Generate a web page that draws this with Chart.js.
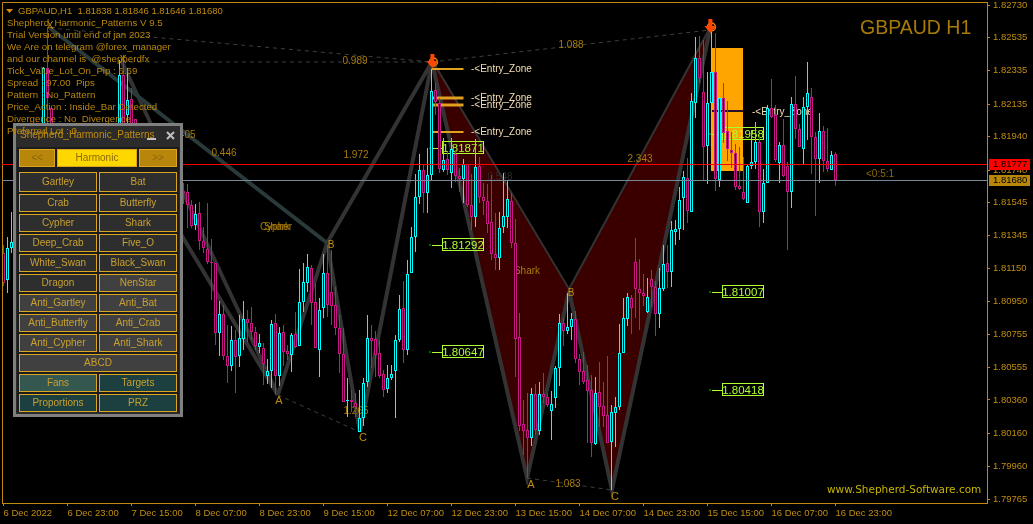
<!DOCTYPE html>
<html>
<head>
<meta charset="utf-8">
<style>
html, body { margin: 0; padding: 0; background: #000; overflow: hidden; }
canvas { display: block; }
</style>
<script src="https://cdn.jsdelivr.net/npm/chart.js@4/dist/chart.umd.min.js"></script>
</head>
<body>
<canvas id="chart" width="1033" height="524"></canvas>
<script>
// H1 bars, bar number counted from the first time label. Bars behind the panel are left out.
const barIndex = [0,1,2,10,11,12,29,30,31,32,33,45,46,47,48,49,50,51,52,53,54,55,56,57,58,59,60,61,62,63,64,65,66,67,68,69,70,71,72,73,74,75,76,77,78,79,80,81,82,83,84,85,86,87,88,89,90,91,92,93,94,95,96,97,98,99,100,101,102,103,104,105,106,107,108,109,110,111,112,113,114,115,116,117,118,119,120,121,122,123,124,125,126,127,128,129,130,131,132,133,134,135,136,137,138,139,140,141,142,143,144,145,146,147,148,149,150,151,152,153,154,155,156,157,158,159,160,161,162,163,164,165,166,167,168,169,170,171,172,173,174,175,176,177,178,179,180,181,182,183,184,185,186,187,188,189,190,191,192,193,194,195,196,197,198,199,200,201,202,203,204,205,206,207,208];
const opens = [1.81242,1.81080,1.81272,1.81920,1.82352,1.82112,1.81860,1.82310,1.82070,1.82166,1.82046,
  1.81614,1.81608,1.81530,1.81410,1.81482,1.81314,1.81266,1.81188,1.81182,1.80762,1.80876,1.80624,1.80564,1.80720,1.80624,1.80726,1.80846,1.80822,1.80768,1.80678,1.80672,1.80504,1.80534,1.80822,1.80504,1.80768,1.80654,1.80630,1.80756,1.80684,1.80948,1.81062,1.81152,1.80948,1.80660,1.80912,1.81122,1.81008,1.80930,1.80792,1.80636,1.80354,1.80360,1.80342,1.80168,1.80252,1.80468,1.80732,1.80726,1.80642,1.80516,1.80426,1.80492,1.80534,1.80720,1.80912,1.80660,1.81122,1.81338,1.81578,1.81740,1.81602,1.81710,1.82220,1.82142,1.81740,1.81806,1.81722,1.81836,1.81704,1.81686,1.81776,1.81530,1.81458,1.81764,1.81578,1.81554,1.81428,1.81236,1.81212,1.81398,1.81458,1.81554,1.81302,1.80738,1.80216,1.80180,1.80132,1.80396,1.80174,1.80396,1.80378,1.80294,1.80372,1.80552,1.80822,1.80774,1.80798,1.80846,1.80606,1.80534,1.80480,1.80420,1.80096,1.80408,1.80324,1.80270,1.80108,1.80282,1.80318,1.80642,1.80846,1.80972,1.81188,1.81026,1.81002,1.80888,1.81086,1.81038,1.80876,1.81026,1.81182,1.81128,1.81368,1.81386,1.81572,1.81692,1.81488,1.82142,1.82412,1.82208,1.81884,1.82142,1.82328,1.81680,1.82172,1.81974,1.81860,1.81842,1.81644,1.81608,1.81542,1.81764,1.81788,1.81908,1.81488,1.81662,1.82112,1.82070,1.81782,1.81890,1.81764,1.81608,1.82136,1.81986,1.81866,1.82118,1.82178,1.81938,1.81806,1.81974,1.81794,1.81740,1.81838];
const closes = [1.81062,1.81272,1.81308,1.82352,1.82172,1.81860,1.82310,1.81860,1.82160,1.81920,1.81920,
  1.81602,1.81530,1.81404,1.81476,1.81314,1.81272,1.81188,1.81182,1.80762,1.80876,1.80624,1.80564,1.80720,1.80618,1.80732,1.80846,1.80822,1.80768,1.80684,1.80702,1.80576,1.80534,1.80816,1.80504,1.80762,1.80648,1.80636,1.80750,1.80678,1.80948,1.81068,1.81158,1.80942,1.80672,1.80900,1.81122,1.80930,1.80924,1.80792,1.80636,1.80348,1.80360,1.80348,1.80318,1.80252,1.80462,1.80732,1.80714,1.80630,1.80504,1.80420,1.80492,1.80516,1.80720,1.80906,1.80660,1.81116,1.81338,1.81578,1.81740,1.81602,1.81710,1.82214,1.82148,1.81746,1.81800,1.81740,1.81866,1.81704,1.81686,1.81776,1.81530,1.81458,1.81758,1.81578,1.81554,1.81416,1.81236,1.81212,1.81392,1.81464,1.81566,1.81302,1.80726,1.80204,1.80174,1.80132,1.80396,1.80180,1.80396,1.80378,1.80330,1.80336,1.80552,1.80822,1.80774,1.80798,1.80846,1.80606,1.80528,1.80468,1.80414,1.80102,1.80402,1.80318,1.80264,1.80102,1.80288,1.80318,1.80642,1.80852,1.80978,1.80912,1.81026,1.81002,1.80984,1.80978,1.81038,1.80876,1.81032,1.81176,1.81128,1.81380,1.81386,1.81560,1.81698,1.81494,1.82154,1.82412,1.82292,1.81878,1.82142,1.82328,1.81686,1.82172,1.81962,1.81866,1.81842,1.81638,1.81626,1.81566,1.81764,1.81788,1.81908,1.81488,1.81662,1.82112,1.82058,1.81800,1.81890,1.81704,1.81608,1.82136,1.81986,1.81878,1.82118,1.82202,1.81938,1.81806,1.81974,1.81794,1.81746,1.81830,1.81680];
const highs = [1.81290,1.81338,1.81488,1.82358,1.82598,1.82112,1.82400,1.82412,1.82352,1.82232,1.82046,
  1.81662,1.81656,1.81560,1.81536,1.81548,1.81398,1.81542,1.81326,1.81182,1.80954,1.80930,1.80810,1.80804,1.80780,1.80870,1.80954,1.80900,1.80918,1.80798,1.80756,1.80702,1.80606,1.80840,1.80876,1.80798,1.80810,1.80690,1.80762,1.80888,1.81146,1.81182,1.81236,1.81170,1.81062,1.80972,1.81236,1.81290,1.81260,1.81038,1.80870,1.80792,1.80492,1.80420,1.80402,1.80420,1.80492,1.80870,1.80810,1.80774,1.80720,1.80540,1.80570,1.80570,1.80750,1.80990,1.81074,1.81200,1.81398,1.81716,1.81836,1.81770,1.81872,1.82346,1.82262,1.82172,1.81932,1.81848,1.81932,1.81860,1.81752,1.81806,1.81776,1.81716,1.81926,1.81818,1.81662,1.81656,1.81710,1.81482,1.81488,1.81722,1.81680,1.81602,1.81446,1.80882,1.80360,1.80402,1.80432,1.80456,1.80468,1.80522,1.80402,1.80414,1.80564,1.80876,1.80852,1.81002,1.80882,1.80894,1.80636,1.80648,1.80570,1.80510,1.80498,1.80588,1.80468,1.80624,1.80330,1.80378,1.80816,1.80972,1.81002,1.80990,1.81332,1.81206,1.81116,1.81092,1.81140,1.81074,1.81152,1.81290,1.81290,1.81434,1.81440,1.81638,1.81734,1.81812,1.82202,1.82538,1.82544,1.82520,1.82328,1.82568,1.82562,1.82268,1.82262,1.82154,1.81968,1.81896,1.81878,1.81818,1.81776,1.81980,1.82028,1.81950,1.81746,1.82130,1.82286,1.82130,1.81908,1.82046,1.81788,1.82178,1.82304,1.82016,1.82178,1.82388,1.82232,1.81968,1.82082,1.82004,1.81992,1.81854,1.81846];
const lows = [1.81044,1.81002,1.81242,1.81860,1.81980,1.81800,1.81800,1.81740,1.81920,1.81860,1.81860,
  1.81536,1.81392,1.81392,1.81380,1.81260,1.81242,1.81176,1.80960,1.80690,1.80624,1.80600,1.80462,1.80534,1.80402,1.80558,1.80660,1.80708,1.80720,1.80660,1.80642,1.80450,1.80456,1.80432,1.80390,1.80444,1.80564,1.80600,1.80528,1.80672,1.80684,1.80888,1.81008,1.80810,1.80672,1.80498,1.80852,1.80858,1.80810,1.80750,1.80522,1.80348,1.80258,1.80288,1.80258,1.80168,1.80204,1.80438,1.80552,1.80498,1.80492,1.80378,1.80402,1.80480,1.80252,1.80708,1.80582,1.80630,1.81122,1.81248,1.81536,1.81482,1.81482,1.81680,1.82070,1.81722,1.81728,1.81710,1.81632,1.81668,1.81608,1.81542,1.81518,1.81380,1.81398,1.81542,1.81470,1.81362,1.81200,1.81140,1.81140,1.81362,1.81392,1.81272,1.80498,1.80174,1.80030,1.79892,1.80084,1.80150,1.80150,1.80342,1.80318,1.80120,1.80312,1.80444,1.80684,1.80756,1.80720,1.80582,1.80450,1.80456,1.80102,1.80018,1.80090,1.80198,1.80198,1.80102,1.79820,1.80078,1.80300,1.80642,1.80804,1.80756,1.80852,1.80780,1.80924,1.80882,1.80918,1.80744,1.80792,1.81014,1.81032,1.81038,1.81290,1.81320,1.81380,1.81422,1.81488,1.82052,1.82262,1.81674,1.81656,1.81878,1.81614,1.81638,1.81902,1.81794,1.81752,1.81620,1.81620,1.81560,1.81542,1.81746,1.81746,1.81398,1.81422,1.81662,1.82052,1.81788,1.81662,1.81698,1.81260,1.81512,1.81926,1.81878,1.81770,1.81920,1.81716,1.81464,1.81662,1.81728,1.81728,1.81740,1.81646];

const timeTicks = [0,16,32,48,64,80,96,112,128,144,160,176,192,208];
const timeLabels = ['6 Dec 2022','6 Dec 23:00','7 Dec 15:00','8 Dec 07:00','8 Dec 23:00','9 Dec 15:00','12 Dec 07:00','12 Dec 23:00','13 Dec 15:00','14 Dec 07:00','14 Dec 23:00','15 Dec 15:00','16 Dec 07:00','16 Dec 23:00'];
const priceTicks = [1.82730,1.82535,1.82335,1.82135,1.81940,1.81740,1.81545,1.81345,1.81150,1.80950,1.80755,1.80555,1.80360,1.80160,1.79960,1.79765];

const bid = 1.81680;
const ask = 1.81777;

// harmonic pattern pivots {x: bar, y: price}
const cypherX1 = {x: 11.6, y: 1.82592};
const cypherX2 = {x: 29.6, y: 1.82388};
const cypherX3 = {x: 27.9, y: 1.82010};
const cypherA = {x: 68.6, y: 1.80390};
const cypherB = {x: 80.9, y: 1.81302};
const cypherC = {x: 89.1, y: 1.80168};
const cypherD = {x: 107.1, y: 1.82388};
const sharkA = {x: 130.9, y: 1.79892};
const sharkB = {x: 141.4, y: 1.81014};
const sharkC = {x: 152.1, y: 1.79820};
const sharkD = {x: 176.6, y: 1.82580};

const entryPrices = [1.82346, 1.82172, 1.82130, 1.81968];
const entryWidths = [2, 3, 3, 2];
const zoneTop = 1.82472;
const zoneBottom = 1.81734;
const zoneEntry = 1.82094;

const targetPrices = [1.81871, 1.81292, 1.80647, 1.81958, 1.81007, 1.80418];
const targetBars = [106.6, 106.6, 106.6, 176.6, 176.6, 176.6];

const CYAN = '#00ffff';
const MAGENTA = '#c71585';
const AXIS = '#c08a10';
const GOLD = '#c08c0e';
const PATTERN = '#333333';
const FONT = '"Liberation Sans"';

function text(ctx, str, x, y, color, font, align) {
    ctx.fillStyle = color;
    ctx.font = font;
    ctx.textAlign = align || 'left';
    ctx.textBaseline = 'middle';
    ctx.fillText(str, x, y);
}

function patternLine(points, color, order) {
    return {type: 'line', data: points, borderColor: color || PATTERN, borderWidth: 4, pointRadius: 0, tension: 0, order: order || 30};
}
function dashLine(points) {
    return {type: 'line', data: points, borderColor: '#3f3f3f', borderWidth: 1, borderDash: [4, 4], pointRadius: 0, tension: 0, order: 29};
}

const candleColors = barIndex.map((b, i) => closes[i] >= opens[i] ? CYAN : MAGENTA);

const datasets = [
    // orange zone of the last pattern
    {type: 'bar', data: [{x: 180.875, y: [zoneBottom, zoneTop]}], backgroundColor: '#ffa500', barThickness: 32, grouped: false, inflateAmount: 0, order: 60},
    // shark body, lower edge fills up to the upper edge
    {type: 'line', data: [cypherD, sharkA, sharkB], fill: '+1', backgroundColor: '#3a0000', borderColor: PATTERN, borderWidth: 4, pointRadius: 0, tension: 0, order: 40},
    {type: 'line', data: [cypherD, sharkB], borderColor: PATTERN, borderWidth: 4, pointRadius: 0, tension: 0, order: 40},
    {type: 'line', data: [sharkB, sharkC, sharkD], fill: '+1', backgroundColor: '#3a0000', borderColor: PATTERN, borderWidth: 4, pointRadius: 0, tension: 0, order: 40},
    {type: 'line', data: [sharkB, sharkD], borderColor: PATTERN, borderWidth: 4, pointRadius: 0, tension: 0, order: 40},
    // cypher legs
    patternLine([cypherX1, cypherB], '#2a3a3a'),
    patternLine([cypherX2, cypherA]),
    patternLine([cypherX3, cypherA]),
    patternLine([cypherA, cypherB]),
    patternLine([cypherB, cypherC]),
    patternLine([cypherC, cypherD]),
    patternLine([cypherB, cypherD]),
    dashLine([cypherX1, cypherD]),
    dashLine([cypherX2, cypherD]),
    dashLine([cypherA, cypherC]),
    dashLine([cypherD, sharkD]),
    dashLine([sharkA, sharkC])
];
entryPrices.forEach((p, i) => {
    datasets.push({type: 'line', data: [{x: 107, y: p}, {x: 115, y: p}], borderColor: '#e0a020', borderWidth: entryWidths[i], pointRadius: 0, order: 20});
});
datasets.push({type: 'line', data: [{x: 176.9, y: zoneEntry}, {x: 185, y: zoneEntry}], borderColor: '#2a0f2a', borderWidth: 2, pointRadius: 0, order: 20});

const wickIndex = datasets.length;
datasets.push({
    type: 'bar',
    data: barIndex.map((b, i) => ({x: b, y: [lows[i], highs[i]]})),
    backgroundColor: candleColors,
    barThickness: 1, grouped: false, inflateAmount: 0, order: 10
});
datasets.push({
    type: 'bar',
    data: barIndex.map((b, i) => ({x: b, y: [opens[i], closes[i]]})),
    backgroundColor: '#000000',
    borderColor: candleColors,
    borderWidth: 1, borderSkipped: false,
    barThickness: 3, grouped: false, inflateAmount: 0, order: 5
});

function drawArrow(ctx, x, y) {
    ctx.strokeStyle = '#e8900c';
    ctx.lineWidth = 1.5;
    ctx.beginPath();
    ctx.arc(x + 1, y, 4, 0, Math.PI * 2);
    ctx.stroke();
    ctx.fillStyle = '#ff4500';
    ctx.beginPath();
    ctx.moveTo(x - 2, y - 8);
    ctx.lineTo(x + 2, y - 8);
    ctx.lineTo(x + 2, y - 1);
    ctx.lineTo(x + 6, y - 1);
    ctx.lineTo(x, y + 6);
    ctx.lineTo(x - 6, y - 1);
    ctx.lineTo(x - 2, y - 1);
    ctx.closePath();
    ctx.fill();
}

function drawButton(ctx, label, x, y, w, h, fill, color) {
    ctx.fillStyle = fill;
    ctx.fillRect(x, y, w, h);
    ctx.strokeStyle = '#daa520';
    ctx.lineWidth = 1;
    ctx.strokeRect(x + 0.5, y + 0.5, w - 1, h - 1);
    text(ctx, label, x + w / 2, y + h / 2 + 0.5, color || '#c8a030', '10px ' + FONT, 'center');
}

function drawPanel(ctx) {
    ctx.fillStyle = '#808080';
    ctx.fillRect(13, 123, 170, 294);
    ctx.fillStyle = '#2b2b2b';
    ctx.fillRect(16, 126, 164, 288);
    ctx.fillStyle = '#1c1c1c';
    ctx.fillRect(17, 147, 162, 265);
    text(ctx, 'Shepherd_Harmonic_Patterns', 20, 135, GOLD, '10px ' + FONT);
    ctx.fillStyle = '#c0c0c0';
    ctx.fillRect(147, 138, 9, 2);
    ctx.strokeStyle = '#c0c0c0';
    ctx.lineWidth = 2;
    ctx.beginPath();
    ctx.moveTo(167, 132); ctx.lineTo(174, 139);
    ctx.moveTo(174, 132); ctx.lineTo(167, 139);
    ctx.stroke();

    const dark = '#2e2e2e', light = '#404040', teal = '#1c3f3f';
    drawButton(ctx, '<<', 19, 149, 36, 18, '#b8860b', '#8b6508');
    drawButton(ctx, 'Harmonic', 57, 149, 80, 18, '#ffd700', '#8b6b00');
    drawButton(ctx, '>>', 139, 149, 38, 18, '#b8860b', '#8b6508');
    const rows = [
        ['Gartley', 'Bat', 172, dark, dark], ['Crab', 'Butterfly', 194, dark, dark],
        ['Cypher', 'Shark', 214, dark, dark], ['Deep_Crab', 'Five_O', 234, dark, dark],
        ['White_Swan', 'Black_Swan', 254, dark, dark], ['Dragon', 'NenStar', 274, dark, light],
        ['Anti_Gartley', 'Anti_Bat', 294, light, light], ['Anti_Butterfly', 'Anti_Crab', 314, light, light],
        ['Anti_Cypher', 'Anti_Shark', 334, light, light]
    ];
    rows.forEach(r => {
        const h = r[2] === 172 ? 20 : 18;
        drawButton(ctx, r[0], 19, r[2], 78, h, r[3]);
        drawButton(ctx, r[1], 99, r[2], 78, h, r[4]);
    });
    drawButton(ctx, 'ABCD', 19, 354, 158, 18, light);
    drawButton(ctx, 'Fans', 19, 374, 78, 18, '#34574f');
    drawButton(ctx, 'Targets', 99, 374, 78, 18, teal);
    drawButton(ctx, 'Proportions', 19, 394, 78, 18, teal);
    drawButton(ctx, 'PRZ', 99, 394, 78, 18, teal);
}

const chartObjects = {
    id: 'chartObjects',
    // drawn behind the candles, as the platform does for its background objects
    beforeDatasetDraw(chart, args) {
        if (args.index !== wickIndex) return;
        const ctx = chart.ctx, xs = chart.scales.x, ys = chart.scales.y;
        ctx.save();
        const f = '10px ' + FONT;
        const dim = '#a87c0a';
        text(ctx, '0.989', 355, 61, dim, f, 'center');
        text(ctx, '1.088', 571, 45, dim, f, 'center');
        text(ctx, '0.446', 224, 153, dim, f, 'center');
        text(ctx, '0.405', 183, 135, dim, f, 'center');
        text(ctx, '1.972', 356, 155, dim, f, 'center');
        text(ctx, '2.343', 640, 159, dim, f, 'center');
        text(ctx, '1.265', 356, 411, dim, f, 'center');
        text(ctx, '1.083', 568, 484, dim, f, 'center');
        text(ctx, '0.548', 500, 177, '#2a2a2a', f, 'center');
        text(ctx, 'Cypher', 276, 227, dim, f, 'center');
        text(ctx, 'Shark', 277, 227, dim, f, 'center');
        text(ctx, 'Shark', 527, 271, dim, f, 'center');
        text(ctx, 'X', 50, 26, GOLD, f, 'center');
        text(ctx, 'X', 123, 60, GOLD, f, 'center');
        text(ctx, 'A', 279, 401, GOLD, '11px ' + FONT, 'center');
        text(ctx, 'B', 331, 245, GOLD, f, 'center');
        text(ctx, 'C', 363, 438, GOLD, '11px ' + FONT, 'center');
        text(ctx, 'A', 531, 485, GOLD, '11px ' + FONT, 'center');
        text(ctx, 'B', 571, 293, GOLD, f, 'center');
        text(ctx, 'C', 615, 497, GOLD, '11px ' + FONT, 'center');
        text(ctx, '<0:5:1', 866, 174, '#8a6a08', f);

        entryPrices.forEach(p => {
            text(ctx, '-<Entry_Zone', 471, Math.round(ys.getPixelForValue(p)), '#f5deb3', f);
        });
        text(ctx, '-<Entry_Zone', 752, Math.round(ys.getPixelForValue(zoneEntry)) + 1, '#f5deb3', f);

        targetPrices.forEach((p, i) => {
            const x = Math.round(xs.getPixelForValue(targetBars[i]));
            const y = Math.round(ys.getPixelForValue(p));
            ctx.fillStyle = '#006400';
            ctx.fillRect(x - 1, y - 1, 2, 2);
            ctx.fillStyle = '#adff2f';
            ctx.fillRect(x + 2, y, 10, 1);
            ctx.strokeStyle = '#adff2f';
            ctx.lineWidth = 1;
            ctx.strokeRect(x + 12.5, y - 6.5, 41, 12);
            text(ctx, p.toFixed(5), x + 33, y + 0.5, '#adff2f', '11.5px ' + FONT, 'center');
        });

        drawArrow(ctx, xs.getPixelForValue(cypherD.x) + 0.5, ys.getPixelForValue(cypherD.y));
        drawArrow(ctx, xs.getPixelForValue(sharkD.x) + 0.5, ys.getPixelForValue(sharkD.y) - 3);
        ctx.restore();
    },
    afterDraw(chart) {
        const ctx = chart.ctx, a = chart.chartArea, ys = chart.scales.y;
        ctx.save();
        // top and left edge of the chart window
        ctx.strokeStyle = AXIS;
        ctx.lineWidth = 1;
        ctx.beginPath();
        ctx.moveTo(2.5, a.bottom);
        ctx.lineTo(2.5, 2.5);
        ctx.lineTo(a.right, 2.5);
        ctx.stroke();

        const askY = Math.round(ys.getPixelForValue(ask));
        const bidY = Math.round(ys.getPixelForValue(bid));
        ctx.fillStyle = '#ff0000';
        ctx.fillRect(a.left, askY, a.right - a.left, 1);
        ctx.fillStyle = '#778899';
        ctx.fillRect(a.left, bidY, a.right - a.left, 1);
        ctx.fillStyle = '#ff0000';
        ctx.fillRect(989, askY - 5, 41, 11);
        text(ctx, ask.toFixed(5), 993, askY + 0.5, '#000', '9.5px ' + FONT);
        ctx.fillStyle = '#b8860b';
        ctx.fillRect(989, bidY - 5, 41, 11);
        text(ctx, bid.toFixed(5), 993, bidY + 0.5, '#000', '9.5px ' + FONT);

        drawPanel(ctx);

        const info = ['Shepherd_Harmonic_Patterns V 9.5', 'Trial Version until end of jan 2023', 'We Are on telegram @forex_manager',
            'and our channel is  @shepherdfx', 'Tick_Value_Lot_On_Pip : 6.69', 'Spread : 97.00  Pips', 'Pattern : No_Pattern',
            'Price_Action : Inside_Bar Detected', 'Divergence : No_Divergence', 'Preferred Lot : 0'];
        info.forEach((line, i) => {
            text(ctx, line, 7, 23.5 + i * 12, '#b8860b', '9.7px ' + FONT);
        });

        ctx.fillStyle = '#e08a10';
        ctx.beginPath();
        ctx.moveTo(6, 9); ctx.lineTo(13, 9); ctx.lineTo(9.5, 13);
        ctx.closePath();
        ctx.fill();
        text(ctx, 'GBPAUD,H1  1.81838 1.81846 1.81646 1.81680', 18, 11, GOLD, '9.5px ' + FONT);
        text(ctx, 'GBPAUD H1', 860, 29, '#a87a08', '19.5px ' + FONT);
        text(ctx, 'www.Shepherd-Software.com', 827, 490, '#c8b400', '10.5px "DejaVu Sans"');
        ctx.restore();
    }
};

new Chart(document.getElementById('chart'), {
    data: {datasets: datasets},
    options: {
        responsive: false,
        animation: false,
        events: [],
        devicePixelRatio: 1,
        layout: {padding: {left: 2, top: 2, right: 0, bottom: 0}},
        plugins: {legend: {display: false}, tooltip: {enabled: false}},
        scales: {
            x: {
                type: 'linear',
                offset: false,
                bounds: 'data',
                min: -0.375,
                max: 245.875,
                afterBuildTicks: s => { s.ticks = timeTicks.map(v => ({value: v})); },
                afterFit: s => { s.height = 21; s.paddingLeft = 0; s.paddingRight = 0; },
                ticks: {
                    autoSkip: false, maxRotation: 0, minRotation: 0, align: 'start', padding: 2,
                    color: GOLD, font: {family: 'Liberation Sans', size: 9.5},
                    callback: (v, i) => timeLabels[i]
                },
                grid: {offset: false, drawOnChartArea: false, drawTicks: true, tickLength: 3, tickColor: AXIS},
                border: {color: AXIS}
            },
            y: {
                type: 'linear',
                position: 'right',
                bounds: 'data',
                min: 1.79742,
                max: 1.82748,
                afterBuildTicks: s => { s.ticks = priceTicks.map(v => ({value: v})); },
                afterFit: s => { s.width = 46; s.paddingTop = 0; s.paddingBottom = 0; },
                ticks: {
                    autoSkip: false, padding: 3,
                    color: GOLD, font: {family: 'Liberation Sans', size: 9.5},
                    callback: v => v.toFixed(5)
                },
                grid: {drawOnChartArea: false, drawTicks: true, tickLength: 3, tickColor: AXIS},
                border: {color: AXIS}
            }
        }
    },
    plugins: [chartObjects]
});
</script>
</body>
</html>
